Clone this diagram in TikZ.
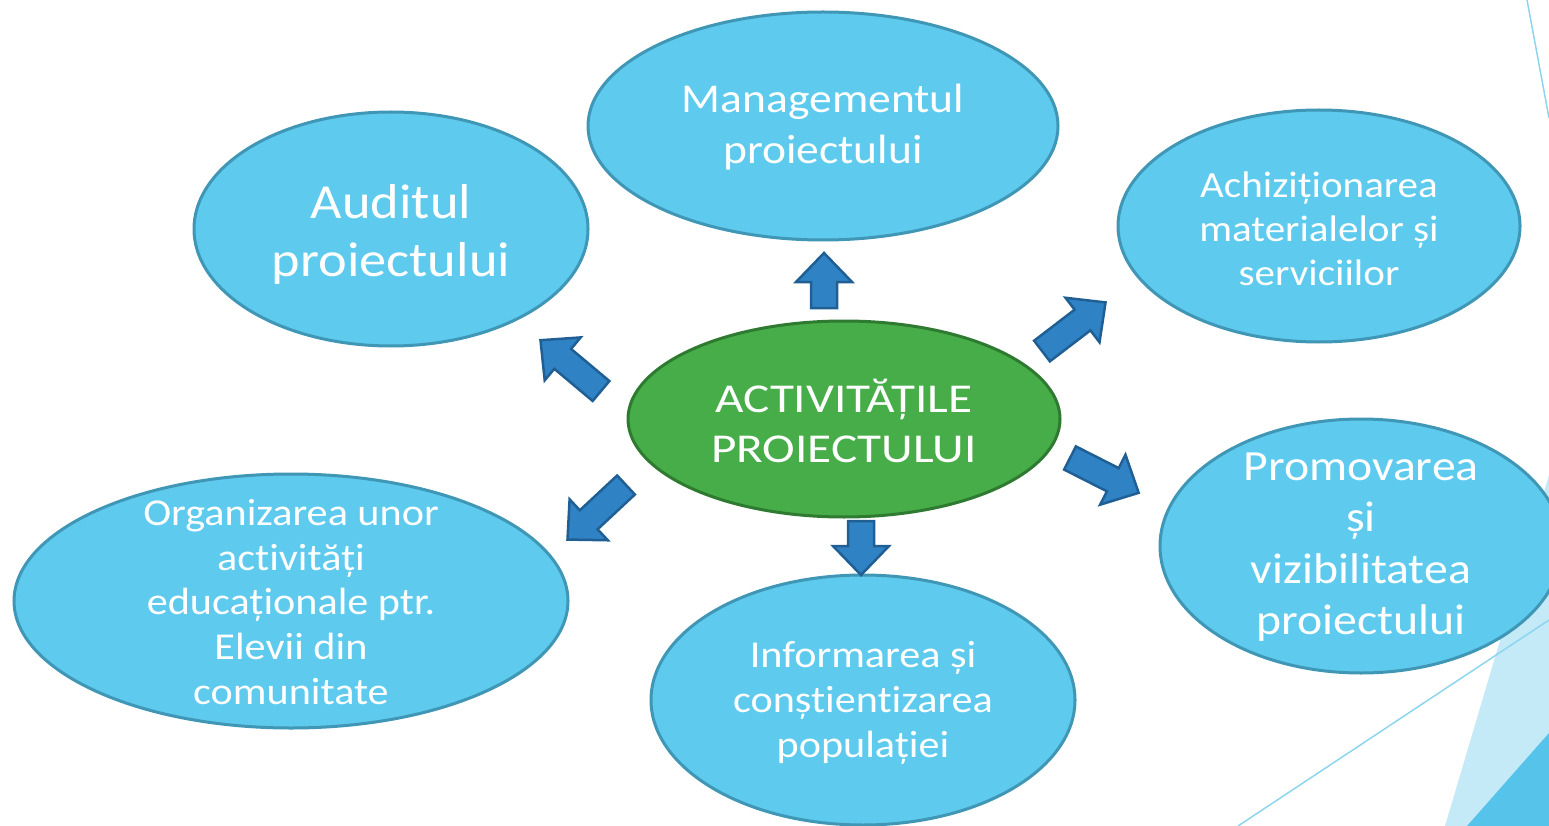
\documentclass[tikz,border=0pt]{standalone}
\usepackage{fontspec}
\setmainfont{Carlito}[FakeStretch=1.11,Ligatures=NoCommon]
\newfontfamily\capsfont{Carlito}[FakeStretch=1.2,Ligatures=NoCommon]
\usetikzlibrary{shapes.geometric}
\definecolor{bubfill}{HTML}{5DCAEE}
\definecolor{bubline}{HTML}{3F96B5}
\definecolor{grfill}{HTML}{47AD48}
\definecolor{grline}{HTML}{2F7A31}
\definecolor{arrfill}{HTML}{2F83C4}
\definecolor{arrline}{HTML}{205F94}
\definecolor{palebg}{HTML}{C4EAF8}
\definecolor{darkbg}{HTML}{56C3EA}
\definecolor{linebg}{HTML}{8DD5EE}
\tikzset{
  bubble/.style={ellipse, draw=bubline, fill=bubfill, line width=3pt, inner sep=0pt},
  centre/.style={ellipse, draw=grline, fill=grfill, line width=3pt, inner sep=0pt},
  txt/.style={text=white, align=center, inner sep=0pt},
  arrowstyle/.style={draw=arrline, fill=arrfill, line width=2.5pt, line join=miter},
  deco/.style={draw=linebg, line width=1.5pt}
}
\newcommand\blockarr[4]{%
  \begin{scope}[shift={(#1,#2)},rotate=#3]
    \draw[arrowstyle] (0,-13) -- ({#4-29},-13) -- ({#4-29},-28) -- (#4,0) -- ({#4-29},28) -- ({#4-29},13) -- (0,13) -- cycle;
  \end{scope}}
\begin{document}
\begin{tikzpicture}[x=1pt,y=-1pt]
\useasboundingbox (0,0) rectangle (1549,826);
\clip (0,0) rectangle (1549,826);
% background decorations
\fill[palebg] (1445,826) -- (1549,475) -- (1549,826) -- cycle;
\fill[darkbg] (1467,826) -- (1549,733) -- (1549,826) -- cycle;
\draw[deco] (1527,0) -- (1549,118);
\draw[deco] (1238,826) -- (1549,620);
% bubbles
\node[bubble, minimum width=470pt, minimum height=228pt] (mgmt) at (823,126) {};
\node[bubble, minimum width=394pt, minimum height=234pt] (audit) at (391,229) {};
\node[bubble, minimum width=402pt, minimum height=232pt] (achiz) at (1319,226) {};
\node[bubble, minimum width=402pt, minimum height=254pt] (promo) at (1361,546) {};
\node[bubble, minimum width=554pt, minimum height=254pt] (organ) at (291,601) {};
\node[bubble, minimum width=424pt, minimum height=250pt] (info) at (863,700) {};
\node[centre, minimum width=432pt, minimum height=196pt] (act) at (844,419) {};
% texts
\node[txt, font=\fontsize{41}{51}\selectfont] at ([yshift=-1pt]mgmt.center) {Managementul\\proiectului};
\node[txt, font=\fontsize{49}{58}\selectfont] at ([yshift=-5pt]audit.center) {Auditul\\proiectului};
\node[txt, font=\fontsize{37}{44}\selectfont] at ([yshift=-3pt]achiz.center) {Achiziționarea\\materialelor și\\serviciilor};
\node[txt, font=\fontsize{43}{51.5}\selectfont] at ([yshift=-1pt]promo.center) {Promovarea\\și\\vizibilitatea\\proiectului};
\node[txt, font=\fontsize{38}{44.7}\selectfont] at ([yshift=-1pt]organ.center) {Organizarea unor\\activități\\educaționale ptr.\\Elevii din\\comunitate};
\node[txt, font=\fontsize{38}{45}\selectfont] at ([yshift=-3pt]info.center) {Informarea și\\conștientizarea\\populației};
\node[txt, font=\capsfont\fontsize{41}{50}\selectfont] at ([yshift=-2pt]act.center) {ACTIVITĂȚILE\\PROIECTULUI};
% block arrows
\blockarr{824}{308}{90}{55}
\blockarr{861}{521}{-90}{54}
\blockarr{1042}{351}{37.4}{80}
\blockarr{1070}{458}{-26.9}{77}
\blockarr{601}{391}{140}{79}
\blockarr{626}{485}{-137}{80}
\end{tikzpicture}
\end{document}
